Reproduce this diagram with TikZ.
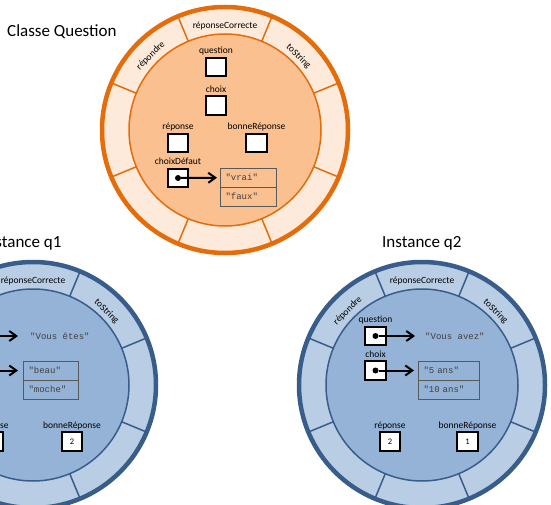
\documentclass[tikz,border=0pt]{standalone}
\usepackage{fontspec}
\setmainfont{Carlito}
\setmonofont{Liberation Mono}
\usetikzlibrary{positioning,arrows.meta}
\definecolor{orgline}{HTML}{E46C0A}
\definecolor{orgring}{HTML}{FDEADA}
\definecolor{orgin}{HTML}{FAC090}
\definecolor{bluline}{HTML}{385D8A}
\definecolor{bluring}{HTML}{B9CDE5}
\definecolor{bluin}{HTML}{95B3D7}

\begin{document}
\begin{tikzpicture}[x=1pt,y=1pt,
  lbl/.style={font=\fontsize{9.5}{11}\selectfont, inner sep=1pt, text height=7pt, text depth=2pt},
  title/.style={font=\fontsize{17}{20}\selectfont, inner sep=0pt},
  var/.style={draw, fill=white, line width=1.8pt, minimum width=20.5pt, minimum height=18.5pt, inner sep=0pt, font=\fontsize{8.5}{10}\selectfont},
  dot/.style={circle, fill, inner sep=0pt, minimum size=6pt},
  cell/.style={draw=black!65, line width=0.8pt, outer sep=0pt, inner xsep=5.5pt, inner ysep=0pt, minimum height=19pt, align=left, text=black!75, font=\fontsize{9}{10}\ttfamily},
  str/.style={text=black!75, font=\fontsize{9}{10}\ttfamily, inner sep=2pt},
  ptr/.style={line width=2pt, -{Straight Barb[length=7pt,width=10pt]}},
]
\useasboundingbox (0,0) rectangle (551,504);
\clip (0,0) rectangle (551,504);

\node[title, anchor=base west] (classT) at (7,467) {Classe Question};
\node[title, anchor=base west] (q1T) at (-18,257) {Instance q1};
\node[title, anchor=base west] (q2T) at (382,257) {Instance q2};

\begin{scope}[shift={(225,374)}]
\fill[orgring] (0,0) circle (123);
\draw[orgline, line width=1.5pt, fill=orgin] (0,0) circle (96);
\foreach \a in {22.5,67.5,...,337.5}
  \draw[orgline, line width=1.5pt] (\a:96) -- (\a:123);
\draw[orgline, line width=4.5pt] (0,0) circle (123);
%methods
\node[lbl] (rcC) at (90:104) {réponseCorrecte};
\node[lbl, rotate=-45] (tsC) at (45:104) {toString};
\node[lbl, rotate=45] (rpC) at (135:105) {répondre};
%attributes
\node[var] (qC) at (-9,63) {};
\node[lbl, above=0pt of qC] (qCl) {question};
\node[var] (chC) at (-9,24.5) {};
\node[lbl, above=0pt of chC] (chCl) {choix};
\node[var] (repC) at (-47,-13) {};
\node[lbl, above=0pt of repC] (repCl) {réponse};
\node[var] (bonC) at (31.5,-13) {};
\node[lbl, above=0pt of bonC] (bonCl) {bonneRéponse};
\node[var] (cdC) at (-47,-48) {};
\node[lbl, above=0pt of cdC] (cdCl) {choixDéfaut};
\node[dot] (cdCdot) at (cdC) {};
\node[cell, text width=45pt, anchor=north west] (vrai) at (-5,-38) {"vrai"};
\node[cell, text width=45pt, below=0pt of vrai] (faux) {"faux"};
\draw[ptr, shorten >=3pt] (cdCdot) -- (vrai);
\end{scope}

\begin{scope}[shift={(33,119)}]
\fill[bluring] (0,0) circle (123);
\draw[bluline, line width=1.5pt, fill=bluin] (0,0) circle (96);
\foreach \a in {22.5,67.5,...,337.5}
  \draw[bluline, line width=1.5pt] (\a:96) -- (\a:123);
\draw[bluline, line width=4.5pt] (0,0) circle (123);
%methods
\node[lbl] (rc1) at (90:104) {réponseCorrecte};
\node[lbl, rotate=-45] (ts1) at (45:104) {toString};
%attributes
\node[var] (q1) at (-54.5,49) {};
\node[dot] (q1dot) at (q1) {};
\node[str, anchor=west] (vous1) at (-5,49) {"Vous êtes"};
\draw[ptr, shorten >=10pt] (q1dot) -- (vous1);
\node[var] (ch1) at (-54.5,14.5) {};
\node[dot] (ch1dot) at (ch1) {};
\node[cell, text width=44pt, anchor=north west] (beau) at (-10,24) {"beau"};
\node[cell, text width=44pt, below=0pt of beau] (moche) {"moche"};
\draw[ptr, shorten >=5pt] (ch1dot) -- (beau);
\node[var] (rep1) at (-40,-56.5) {};
\node[lbl, above=0pt of rep1] (rep1l) {réponse};
\node[var] (bon1) at (39,-56.5) {2};
\node[lbl, above=0pt of bon1] (bon1l) {bonneRéponse};
\end{scope}

\begin{scope}[shift={(422,119)}]
\fill[bluring] (0,0) circle (123);
\draw[bluline, line width=1.5pt, fill=bluin] (0,0) circle (96);
\foreach \a in {22.5,67.5,...,337.5}
  \draw[bluline, line width=1.5pt] (\a:96) -- (\a:123);
\draw[bluline, line width=4.5pt] (0,0) circle (123);
%methods
\node[lbl] (rc2) at (90:104) {réponseCorrecte};
\node[lbl, rotate=-45] (ts2) at (45:104) {toString};
\node[lbl, rotate=45] (rp2) at (135:105) {répondre};
%attributes
\node[var] (q2) at (-46.5,49) {};
\node[lbl, above=0pt of q2] (q2l) {question};
\node[dot] (q2dot) at (q2) {};
\node[str, anchor=west] (vous2) at (1,49) {"Vous avez"};
\draw[ptr, shorten >=8pt] (q2dot) -- (vous2);
\node[var] (ch2) at (-46.5,14.5) {};
\node[lbl, above=0pt of ch2] (ch2l) {choix};
\node[dot] (ch2dot) at (ch2) {};
\node[cell, text width=50pt, anchor=north west] (cinq) at (-4,24) {"5 ans"};
\node[cell, text width=50pt, below=0pt of cinq] (dix) {"10 ans"};
\draw[ptr, shorten >=4pt] (ch2dot) -- (cinq);
\node[var] (rep2) at (-32,-56.5) {2};
\node[lbl, above=0pt of rep2] (rep2l) {réponse};
\node[var] (bon2) at (45.5,-56.5) {1};
\node[lbl, above=0pt of bon2] (bon2l) {bonneRéponse};
\end{scope}

\end{tikzpicture}
\end{document}
